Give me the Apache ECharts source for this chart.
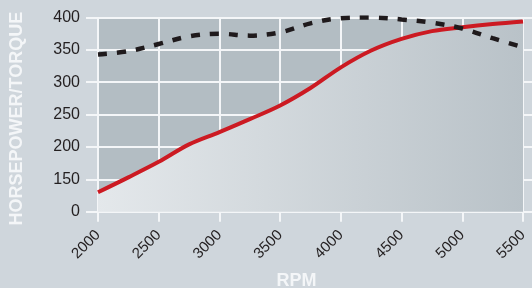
<!DOCTYPE html>
<html>
<head>
<meta charset="utf-8">
<script src="https://cdn.jsdelivr.net/npm/echarts@6/dist/echarts.min.js"></script>
<style>
    html, body { margin: 0; padding: 0; background: #cfd6dc; }
    #chart { width: 532px; height: 288px; }
</style>
</head>
<body>
<div id="chart"></div>
<script>
    // rpm steps along the x axis
    var rpm = [2000, 2250, 2500, 2750, 3000, 3250, 3500, 3750, 4000, 4250, 4500, 4750, 5000, 5250, 5500];
    // horsepower (red solid)
    var horsepower = [90, 153, 177, 204, 223, 243, 264, 291, 323, 349, 367, 379, 385, 390, 394];
    // torque (black dashed)
    var torque = [343, 348, 359, 371, 375, 372, 377, 391, 399, 400, 397, 392, 383, 368, 354];
    var yTicks = ['0', '150', '200', '250', '300', '350', '400'];

    // the y axis is broken: 0..150 is squeezed into one step (drawn as 100..150)
    function brk(v) {
        return v < 150 ? 100 + v / 150 * 50 : v;
    }
    function pairs(vals) {
        return rpm.map(function (r, i) { return [r, brk(vals[i])]; });
    }

    var font = "'Liberation Sans', Arial, sans-serif";
    var chart = echarts.init(document.getElementById('chart'));
    chart.setOption({
        backgroundColor: '#cfd6dc',
        animation: false,
        grid: {
            show: true,
            left: 98,
            right: 9,
            top: 17.5,
            bottom: 76.3,
            outerBoundsMode: 'none',
            containLabel: false,
            backgroundColor: '#b3bdc3',
            borderWidth: 0
        },
        xAxis: {
            type: 'value',
            min: 2000,
            max: 5500,
            interval: 500,
            name: 'RPM',
            nameLocation: 'middle',
            nameGap: 60,
            nameTextStyle: {
                color: '#f4f6f8',
                fontFamily: font,
                fontWeight: 'bold',
                fontSize: 18,
                padding: [0, 28, 0, 0]
            },
            axisLine: { show: false },
            axisTick: { show: true, length: 10, lineStyle: { color: '#f4f6f8', width: 2 } },
            axisLabel: {
                rotate: 45,
                margin: 21,
                color: '#231f20',
                fontFamily: font,
                fontSize: 15,
                formatter: function (v) { return String(v); }
            },
            splitLine: { show: true, lineStyle: { color: '#f4f6f8', width: 2 } }
        },
        yAxis: [{
            type: 'value',
            min: 100,
            max: 400,
            interval: 50,
            name: 'HORSEPOWER/TORQUE',
            nameLocation: 'middle',
            nameGap: 72,
            nameTextStyle: {
                color: '#f4f6f8',
                fontFamily: font,
                fontWeight: 'bold',
                fontSize: 18,
                padding: [0, 8, 0, 0]
            },
            axisLine: { show: false },
            axisTick: { show: true, length: 12, lineStyle: { color: '#f4f6f8', width: 2 } },
            axisLabel: {
                margin: 18,
                color: '#231f20',
                fontFamily: font,
                fontSize: 16,
                formatter: function (v) {
                    return yTicks[(v - 100) / 50];
                }
            },
            splitLine: { show: true, lineStyle: { color: '#f4f6f8', width: 2 } }
        }, {
            type: 'value',
            position: 'right',
            min: 100,
            max: 400,
            interval: 50,
            axisLine: { show: false },
            axisTick: { show: true, length: 9, lineStyle: { color: '#f4f6f8', width: 2 } },
            axisLabel: { show: false },
            splitLine: { show: false }
        }],
        series: [{
            name: 'Horsepower',
            type: 'line',
            data: pairs(horsepower),
            smooth: 0.35,
            symbol: 'none',
            lineStyle: { color: '#cc1a22', width: 4 },
            areaStyle: {
                opacity: 1,
                color: new echarts.graphic.LinearGradient(0, 0, 1, 0, [
                    { offset: 0, color: '#e4e8eb' },
                    { offset: 1, color: '#b9c2c8' }
                ])
            },
            z: 2
        }, {
            name: 'Torque',
            type: 'line',
            data: pairs(torque),
            smooth: 0.35,
            symbol: 'none',
            lineStyle: { color: '#1f1a1c', width: 4.5, type: [9, 10] },
            z: 3
        }]
    });
</script>
</body>
</html>
